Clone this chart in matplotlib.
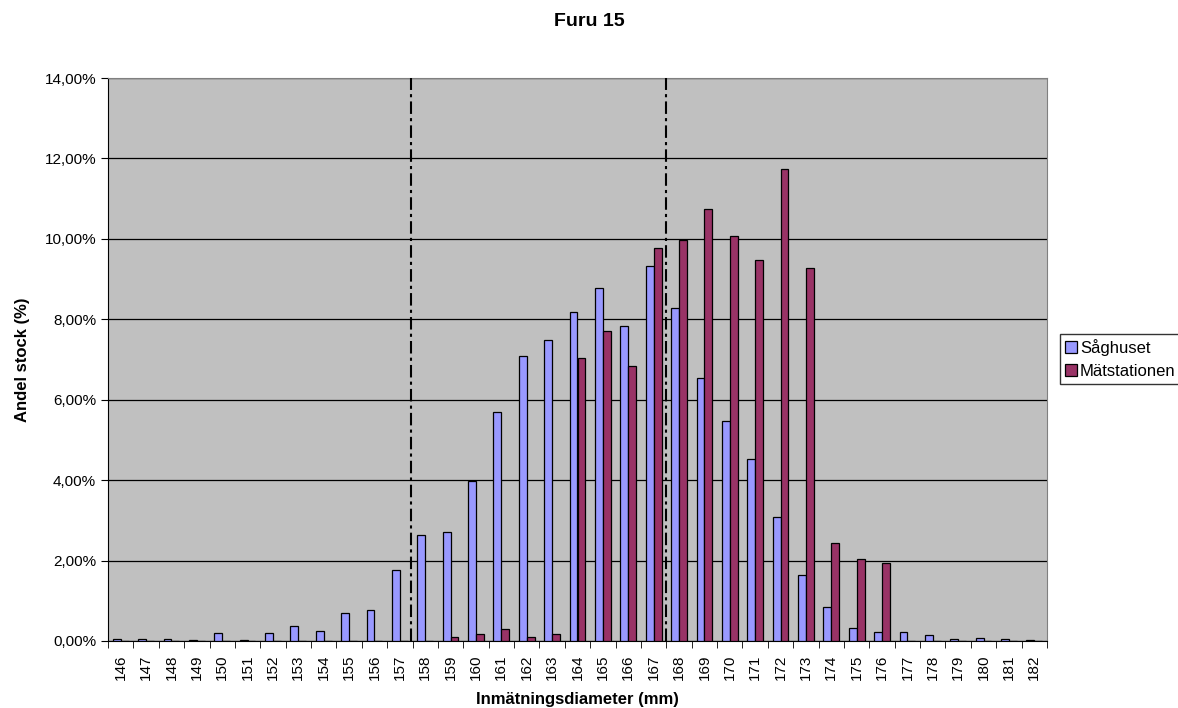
import matplotlib
matplotlib.use("Agg")
import matplotlib.pyplot as plt
import numpy as np
from matplotlib.ticker import FuncFormatter, MultipleLocator

plt.rcParams['font.family'] = ['Liberation Sans', 'DejaVu Sans']

# Diameter classes (mm)
diameters = list(range(146, 183))

# Share of logs per diameter class (%)
saghuset = [0.05, 0.05, 0.05, 0.02, 0.20, 0.02, 0.20, 0.38, 0.25, 0.69,
            0.76, 1.77, 2.64, 2.70, 3.98, 5.70, 7.08, 7.49, 8.19, 8.79,
            7.83, 9.33, 8.27, 6.55, 5.47, 4.53, 3.09, 1.65, 0.85, 0.32,
            0.22, 0.22, 0.15, 0.05, 0.08, 0.05, 0.02]
matstationen = [0, 0, 0, 0, 0, 0, 0, 0, 0, 0,
                0, 0, 0, 0.10, 0.18, 0.29, 0.10, 0.18, 7.04, 7.72,
                6.84, 9.78, 9.97, 10.75, 10.07, 9.48, 11.73, 9.28, 2.43, 2.05,
                1.93, 0, 0, 0, 0, 0, 0]

series_names = ["Såghuset", "Mätstationen"]
series_colors = ["#9999FF", "#993366"]

fig = plt.figure(figsize=(11.78, 7.08), dpi=100)
ax = fig.add_axes([108 / 1178, 67 / 708, 939 / 1178, 563 / 708])
ax.set_facecolor("#C0C0C0")

x = np.arange(len(diameters))
w = 0.31
ax.bar(x - w / 2, saghuset, width=w, color=series_colors[0],
       edgecolor="black", linewidth=0.9, label=series_names[0], zorder=3)
ax.bar(x + w / 2, matstationen, width=w, color=series_colors[1],
       edgecolor="black", linewidth=0.9, label=series_names[1], zorder=3)

ax.set_xlim(-0.5, len(diameters) - 0.5)
ax.set_ylim(0, 14)
ax.yaxis.set_major_locator(MultipleLocator(2))
ax.yaxis.set_major_formatter(FuncFormatter(lambda v, p: f"{v:.2f}%".replace(".", ",")))
ax.grid(axis="y", color="black", linewidth=0.9, zorder=1)

ax.set_xticks(x)
ax.set_xticklabels([str(d) for d in diameters], rotation=90)
ax.set_xticks(np.arange(len(diameters) + 1) - 0.5, minor=True)
ax.tick_params(axis="x", which="major", length=0, pad=10, labelsize=11)
ax.tick_params(axis="x", which="minor", length=5, color="black")
ax.tick_params(axis="y", length=5, labelsize=11)

for spine in ["top", "right"]:
    ax.spines[spine].set_color("#808080")
for spine in ["left", "bottom"]:
    ax.spines[spine].set_color("black")

# Dash-dot limit lines between classes
for pos in [11.42, 21.5]:
    ax.axvline(pos, color="black", linestyle=(0, (6, 2, 1.5, 2)), linewidth=1.5, zorder=4)

ax.set_xlabel("Inmätningsdiameter (mm)", fontsize=12, fontweight="bold")
ax.xaxis.set_label_coords(0.5, -0.091)
ax.set_ylabel("Andel stock (%)", fontsize=12, fontweight="bold")
ax.yaxis.set_label_coords(-0.083, 0.5)
fig.suptitle("Furu 15", x=0.5, y=0.982, fontsize=14, fontweight="bold")

leg = fig.legend(loc="upper left", bbox_to_anchor=(1060 / 1178, 1 - 334 / 708),
                 fontsize=12, frameon=True, fancybox=False, edgecolor="black",
                 handlelength=0.72, handleheight=0.72, handletextpad=0.2,
                 borderpad=0.28, labelspacing=0.5, borderaxespad=0)
leg.get_frame().set_linewidth(1.0)

fig.savefig("out.png", dpi=100)
